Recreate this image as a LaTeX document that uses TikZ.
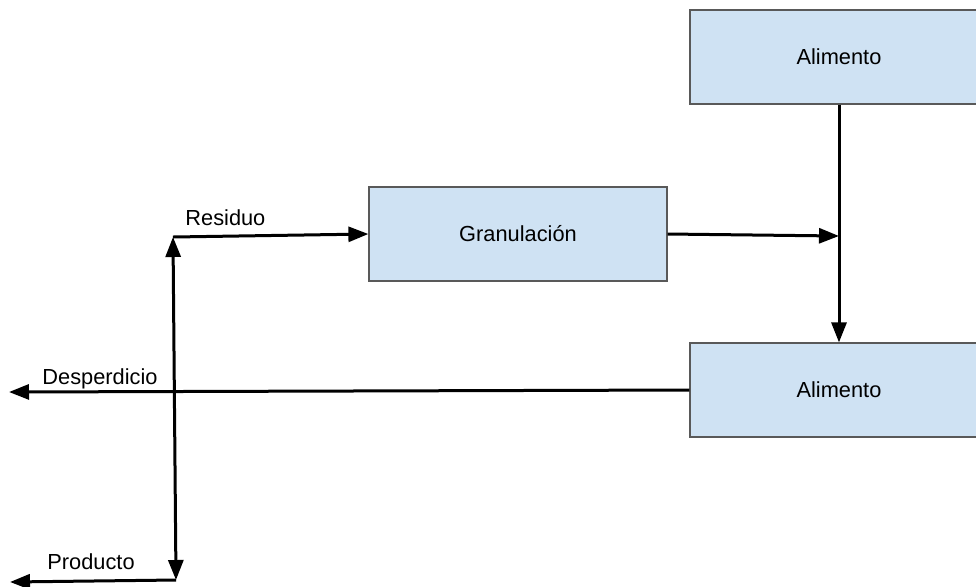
\documentclass[tikz,border=0pt]{standalone}
\usepackage{fontspec}
\setmainfont{Liberation Sans}
\usepackage{xcolor}
\definecolor{clBox}{HTML}{CFE2F3}
\definecolor{clEdge}{HTML}{595959}
\usetikzlibrary{arrows.meta,positioning,calc}
\tikzset{
  box/.style={rectangle, draw=clEdge, fill=clBox, line width=0.6pt,
              minimum width=149pt, minimum height=47pt, inner sep=0pt,
              font=\fontsize{10.9}{13}\selectfont},
  flow/.style={-{Triangle[length=10pt,width=7.5pt]}, line width=1.5pt, draw=black},
  flowlabel/.style={font=\fontsize{10.9}{13}\selectfont, inner sep=0pt, anchor=base west},
}
\begin{document}
\begin{tikzpicture}[x=0.5pt, y=-0.5pt]
  \useasboundingbox (0,0) rectangle (976,586);
  \clip (0,0) rectangle (976,586);
  \node[box] (alimA) at (839,57) {Alimento};
  \node[box] (gran) at (518,234) {Granulación};
  \node[box] (alimB) at (839,390) {Alimento};
  \coordinate (junc) at (839,236);
  \coordinate (split) at (173,237);
  \coordinate (splitB) at (176,580);
  \coordinate (despEnd) at (9,392);
  \coordinate (prodEnd) at (10,582);
  \draw[flow] (alimA.south) -- (alimB.north);
  \draw[flow] (gran.east) -- (junc);
  \draw[flow] (alimB.west) -- (despEnd);
  \draw[flow, {Triangle[length=10pt,width=7.5pt]}-{Triangle[length=10pt,width=7.5pt]}] (split) -- (splitB);
  \draw[flow] (split) -- (gran.west);
  \draw[flow] (splitB) -- (prodEnd);
  \node[flowlabel] (resLbl) at (185,225) {Residuo};
  \node[flowlabel] (despLbl) at (42,384) {Desperdicio};
  \node[flowlabel] (prodLbl) at (47,569) {Producto};
\end{tikzpicture}
\end{document}
